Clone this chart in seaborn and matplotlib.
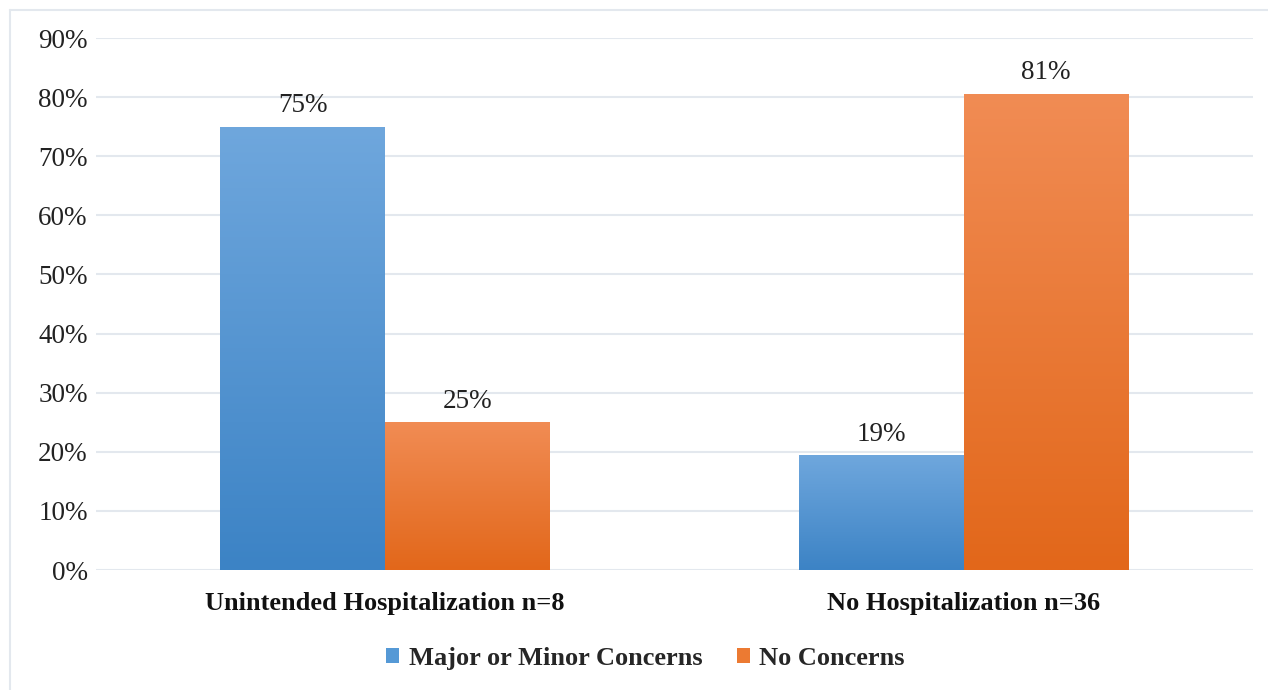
import numpy as np
import pandas as pd
import seaborn as sns
import matplotlib.pyplot as plt
from matplotlib.lines import Line2D
from matplotlib.colors import LinearSegmentedColormap

categories = ['Unintended Hospitalization n=8', 'No Hospitalization n=36']
series = ['Major or Minor Concerns', 'No Concerns']
major_minor = [0.75, 0.194]
no_concerns = [0.25, 0.806]

df = pd.DataFrame({
    'group': categories * 2,
    'concern': [series[0]] * 2 + [series[1]] * 2,
    'share': major_minor + no_concerns,
})

sns.set_theme(style='white')
plt.rcParams['font.family'] = ['Liberation Serif', 'DejaVu Serif']

palette = {series[0]: '#5599d6', series[1]: '#ec7a32'}
# gradient top/bottom colours, Excel style
gradients = {series[0]: ('#6fa7dd', '#3c83c5'), series[1]: ('#f18c54', '#e2671a')}
grid_col = '#e3e8ee'

fig = plt.figure(figsize=(12.68, 6.90), dpi=100)
ax = fig.add_axes([0.0757, 0.1739, 0.988 - 0.0757, 0.9449 - 0.1739])

sns.barplot(data=df, x='group', y='share', hue='concern', order=categories,
            hue_order=series, palette=palette, width=0.57, saturation=1,
            linewidth=0, ax=ax, legend=True)

ax.set_ylim(0, 0.9)
ax.set_yticks(np.arange(0, 0.91, 0.1))
ax.set_yticklabels([f'{int(round(t * 100))}%' for t in np.arange(0, 0.91, 0.1)])
ax.yaxis.grid(True, color=grid_col, linewidth=1.5)
ax.set_axisbelow(True)
for s in ax.spines.values():
    s.set_visible(False)
ax.tick_params(axis='y', length=0, pad=6, labelsize=19.5, labelcolor='#222222')
ax.tick_params(axis='x', length=0, pad=16, labelsize=19, labelcolor='#111111')
for lbl in ax.get_xticklabels():
    lbl.set_fontweight('bold')
ax.set_xlabel('')
ax.set_ylabel('')

# gradient fill on each bar
for container, name in zip(ax.containers, series):
    cmap = LinearSegmentedColormap.from_list(name, [gradients[name][1], gradients[name][0]])
    for bar in container:
        x0, y0 = bar.get_x(), bar.get_y()
        w, h = bar.get_width(), bar.get_height()
        grad = np.linspace(0, 1, 256).reshape(-1, 1)
        im = ax.imshow(grad, cmap=cmap, origin='lower', aspect='auto',
                       extent=[x0, x0 + w, y0, y0 + h], zorder=bar.get_zorder() + 0.1)
        im.set_clip_path(bar)
    ax.bar_label(container, labels=[f'{v:.0%}' for v in container.datavalues],
                 padding=6, fontsize=19.5, color='#222222')

ax.set_xlim(-0.5, 1.5)
ax.set_ylim(0, 0.9)

handles, labels = ax.get_legend_handles_labels()
ax.legend_.remove()
fig.legend(handles, labels, loc='center', bbox_to_anchor=(0.509, 0.046), ncol=2,
           frameon=False, handlelength=0.5, handleheight=0.5, handletextpad=0.35,
           columnspacing=1.3, prop={'weight': 'bold', 'size': 19})

# outer chart border (top and left visible)
fig.add_artist(Line2D([10 / 1268, 1], [1 - 10 / 690] * 2, color=grid_col, linewidth=1.5))
fig.add_artist(Line2D([10 / 1268] * 2, [0, 1 - 10 / 690], color=grid_col, linewidth=1.5))

fig.savefig('out.png', dpi=100)
